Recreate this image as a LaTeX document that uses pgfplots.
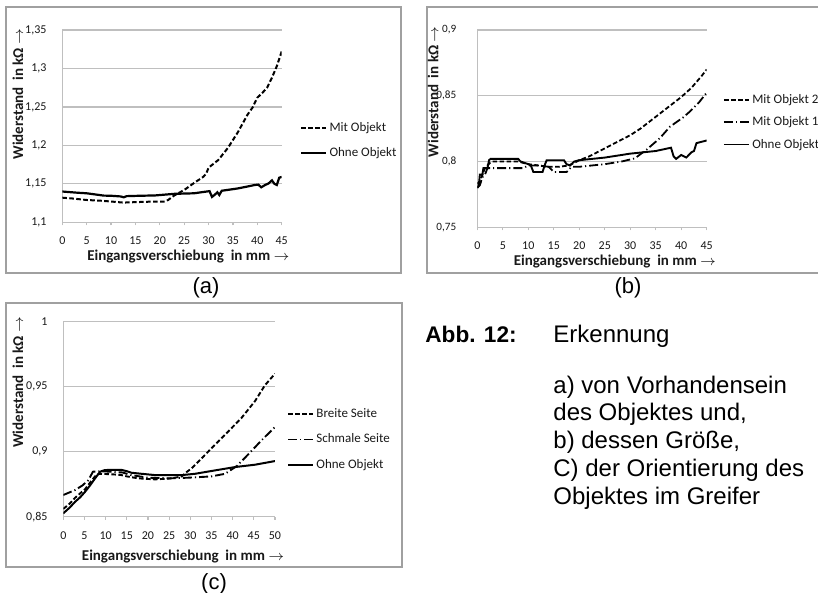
\documentclass[border=0pt]{standalone}
\usepackage{fontspec}
\setmainfont{Liberation Sans}
\newfontfamily\calibri{Carlito}
\usepackage{pgfplots}
\usepackage{pgfplotstable}
\pgfplotsset{compat=1.18}
\definecolor{gridgray}{RGB}{191,191,191}
\definecolor{framegray}{RGB}{160,160,160}
\definecolor{txt}{RGB}{25,25,25}

\pgfplotstableread{
x y
0 1.132
2 1.131
5 1.129
8 1.128
10 1.127
12.5 1.1256
15 1.1262
18 1.1268
21 1.127
21.7 1.129
23 1.135
25 1.142
27 1.151
28.9 1.159
29.5 1.163
30 1.171
31 1.176
32 1.181
34 1.197
36 1.217
38 1.240
39 1.249
40 1.262
41 1.268
42 1.275
43 1.288
44 1.303
45 1.322
}\aMit
\pgfplotstableread{
x y
0 1.140
3 1.1385
5 1.1377
7 1.136
8.5 1.1347
10 1.1345
12 1.1336
12.6 1.1325
13.2 1.1340
16 1.1345
19 1.1349
23 1.1370
27 1.1377
29.6 1.1400
30.2 1.1405
30.7 1.1330
31.3 1.1360
31.8 1.1390
32.2 1.1355
32.7 1.1410
36 1.1440
39.5 1.1485
40.2 1.1490
40.8 1.1455
41.6 1.1485
42.3 1.1505
43 1.1545
43.5 1.1500
44 1.1485
44.5 1.1580
45 1.1590
}\aOhne
\pgfplotstableread{
x y
0 0.783
0.5 0.785
1 0.790
1.5 0.795
2.5 0.799
3 0.800
8 0.800
10 0.798
12 0.797
14 0.796
16 0.796
18 0.797
20 0.801
22 0.804
24 0.808
26 0.812
28 0.816
30 0.820
32 0.825
34 0.831
36 0.837
38 0.843
40 0.849
42 0.856
44 0.865
45 0.870
}\bZwei
\pgfplotstableread{
x y
0 0.780
0.5 0.782
1 0.788
1.5 0.790
2 0.795
3 0.795
9 0.795
10 0.797
12 0.797
14 0.796
15 0.792
17.5 0.792
18.5 0.796
20 0.796
25 0.798
28.3 0.800
30.9 0.8024
33.2 0.809
35.8 0.8177
37.8 0.8265
40.4 0.8336
41.7 0.838
43.5 0.845
45 0.8524
}\bEins
\pgfplotstableread{
x y
0 0.780
0.3 0.782
0.5 0.790
1 0.790
1.2 0.795
2 0.795
2.3 0.801
2.6 0.802
8 0.802
8.5 0.800
10 0.798
10.5 0.797
11 0.792
12.8 0.792
13.2 0.797
13.6 0.801
17 0.801
17.5 0.798
18.2 0.797
19 0.800
20 0.801
25 0.803
30 0.806
35 0.808
38 0.8105
38.5 0.804
39 0.802
40 0.805
40.5 0.804
41 0.803
42 0.807
42.5 0.808
43 0.814
44 0.815
45 0.816
}\bOhne
\pgfplotstableread{
x y
0 0.856
1.5 0.860
2.8 0.8646
4 0.868
5.1 0.871
6.5 0.877
7.9 0.8826
9 0.883
12 0.8825
13.8 0.882
15 0.881
17.7 0.8795
21.7 0.8787
25.6 0.8795
28 0.881
29 0.884
30.3 0.8872
32.7 0.895
35 0.9026
38.2 0.913
42.1 0.926
45.3 0.939
47.6 0.951
50 0.960
}\cBreit
\pgfplotstableread{
x y
0 0.8667
2.8 0.8705
4.5 0.874
5.9 0.878
7 0.8846
8.7 0.885
10 0.8848
14 0.884
16 0.882
20 0.880
25 0.8795
29.5 0.880
35 0.881
38.2 0.883
41 0.889
43.7 0.898
46.9 0.909
50 0.919
}\cSchmal
\pgfplotstableread{
x y
0 0.8526
1.5 0.857
2.8 0.8615
4 0.865
5.1 0.869
6.3 0.874
7.5 0.8795
8.7 0.8846
9.8 0.8859
12 0.886
13.8 0.886
15 0.885
16.1 0.8838
18.5 0.883
21.7 0.882
25 0.882
28 0.882
31.1 0.883
35.8 0.8856
40.6 0.8882
45.3 0.890
50 0.8928
}\cOhne

\pgfplotsset{
  excelstyle/.style={
    scale only axis,
    anchor=south west,
    axis lines=left,
    axis line style={draw=gridgray, line width=0.6pt, -},
    ymajorgrids,
    grid style={draw=gridgray, line width=0.6pt},
    tick align=outside,
    ytick style={draw=none},
    xtick style={draw=gridgray, line width=0.6pt},
    major tick length=1.6pt,
    scaled ticks=false,
    /pgf/number format/assume math mode=true,
    /pgf/number format/use comma,
    /pgf/number format/fixed,
    /pgf/number format/precision=2,
    tick label style={font=\calibri\fontsize{6}{7}\selectfont, text=txt},
    xticklabel style={yshift=-2.3pt},
    yticklabel style={xshift=-2.8pt},
    label style={font=\calibri\bfseries\fontsize{7.5}{9}\selectfont, text=txt},
    xlabel style={anchor=center},
    ylabel style={anchor=center},
    legend style={draw=none, fill=none, font=\calibri\fontsize{6.5}{8}\selectfont,
      anchor=west, inner sep=0pt, outer sep=0pt,
      nodes={inner sep=0.6pt, text height=5pt, text depth=1.5pt, text=txt},
      /tikz/every odd column/.append style={column sep=0.6pt}},
    legend cell align=left,
    legend image code/.code={\draw[##1] (0pt,0pt) -- (12.5pt,0pt);},
  },
  dashedline/.style={black, line width=1pt, dash pattern=on 2.3pt off 1.2pt},
  dashdotline/.style={black, line width=0.95pt, dash pattern=on 4.5pt off 1.5pt on 0.6pt off 1.5pt},
  solidline/.style={black, line width=1.1pt},
}

\begin{document}
\begin{tikzpicture}
\useasboundingbox (0pt,0pt) rectangle (409pt,296.5pt);
\fill[white] (0pt,0pt) rectangle (409pt,296.5pt);
% frames
\draw[framegray, line width=0.6pt] (3pt,160pt) rectangle (200.5pt,293pt);
\draw[framegray, line width=0.6pt] (410pt,293pt) -- (213.5pt,293pt) -- (213.5pt,160pt) -- (410pt,160pt);
\draw[framegray, line width=0.6pt] (3pt,13pt) rectangle (201pt,145pt);

% (a)
\begin{axis}[excelstyle,
  at={(31.15pt,185.35pt)}, width=109.7pt, height=96.15pt,
  xmin=0, xmax=45, ymin=1.1, ymax=1.35,
  xtick={0,5,10,15,20,25,30,35,40,45},
  ytick={1.1,1.15,1.2,1.25,1.3,1.35},
  xlabel={Eingangsverschiebung\ \ in mm $\rightarrow$},
  ylabel={Widerstand\ \ in kΩ $\rightarrow$},
  xlabel style={at={(axis description cs:0.575,-0.1805)}},
  ylabel style={at={(axis description cs:-0.202,0.667)}},
  legend style={at={(axis description cs:1.083,0.425)}, row sep=4.5pt},
]
\addplot[dashedline] table[x=x,y=y] {\aMit};
\addlegendentry{Mit Objekt}
\addplot[solidline] table[x=x,y=y] {\aOhne};
\addlegendentry{Ohne Objekt}
\end{axis}

% (b)
\begin{axis}[excelstyle,
  at={(238.65pt,182.85pt)}, width=114.7pt, height=98.65pt,
  xmin=0, xmax=45, ymin=0.75, ymax=0.9,
  xtick={0,5,10,15,20,25,30,35,40,45},
  ytick={0.75,0.8,0.85,0.9},
  yticklabel style={xshift=-2.6pt, font=\calibri\fontsize{5.6}{7}\selectfont},
  xlabel={Eingangsverschiebung\ \ in mm $\rightarrow$},
  ylabel={Widerstand\ \ in kΩ $\rightarrow$},
  xlabel style={at={(axis description cs:0.60,-0.1756)}},
  ylabel style={at={(axis description cs:-0.192,0.687)}},
  legend style={at={(axis description cs:1.071,0.533)}, row sep=3.5pt},
]
\addplot[dashedline, line width=0.9pt] table[x=x,y=y] {\bZwei};
\addlegendentry{Mit Objekt 2}
\addplot[dashdotline, line width=0.9pt] table[x=x,y=y] {\bEins};
\addlegendentry{Mit Objekt 1}
\addplot[solidline, line width=0.95pt] table[x=x,y=y] {\bOhne};
\addlegendentry{Ohne Objekt}
\end{axis}

% (c)
\begin{axis}[excelstyle,
  at={(31.65pt,38.15pt)}, width=105.85pt, height=97.5pt,
  xmin=0, xmax=50, ymin=0.85, ymax=1,
  xtick={0,5,10,15,20,25,30,35,40,45,50},
  ytick={0.85,0.9,0.95,1},
  xlabel={Eingangsverschiebung\ \ in mm $\rightarrow$},
  ylabel={Widerstand\ \ in kΩ $\rightarrow$},
  xlabel style={at={(axis description cs:0.566,-0.2067)}},
  ylabel style={at={(axis description cs:-0.214,0.69)}},
  legend style={at={(axis description cs:1.057,0.396)}, row sep=5.2pt},
]
\addplot[dashedline, line width=0.95pt] table[x=x,y=y] {\cBreit};
\addlegendentry{Breite Seite}
\addplot[dashdotline] table[x=x,y=y] {\cSchmal};
\addlegendentry{Schmale Seite}
\addplot[solidline, line width=1pt] table[x=x,y=y] {\cOhne};
\addlegendentry{Ohne Objekt}
\end{axis}

% subfigure labels
\node[font=\fontsize{11}{13}\selectfont, inner sep=0pt] at (103pt,152.65pt) {(a)};
\node[font=\fontsize{11}{13}\selectfont, inner sep=0pt] at (314pt,152.65pt) {(b)};
\node[font=\fontsize{11}{13}\selectfont, inner sep=0pt] at (107pt,4.6pt) {(c)};

% caption
\node[font=\bfseries\fontsize{11.3}{13}\selectfont, anchor=base west, inner sep=0pt] at (212.5pt,125pt) {Abb. 12:};
\node[font=\fontsize{12}{14}\selectfont, anchor=base west, inner sep=0pt] at (276.5pt,125pt) {Erkennung};
\node[font=\fontsize{12}{14}\selectfont, anchor=base west, inner sep=0pt] at (276.5pt,99.85pt) {a) von Vorhandensein};
\node[font=\fontsize{12}{14}\selectfont, anchor=base west, inner sep=0pt] at (276.5pt,86pt) {des Objektes und,};
\node[font=\fontsize{12}{14}\selectfont, anchor=base west, inner sep=0pt] at (276.5pt,72pt) {b) dessen Größe,};
\node[font=\fontsize{12}{14}\selectfont, anchor=base west, inner sep=0pt] at (276.5pt,58.15pt) {C) der Orientierung des};
\node[font=\fontsize{12}{14}\selectfont, anchor=base west, inner sep=0pt] at (276.5pt,44pt) {Objektes im Greifer};
\end{tikzpicture}
\end{document}
